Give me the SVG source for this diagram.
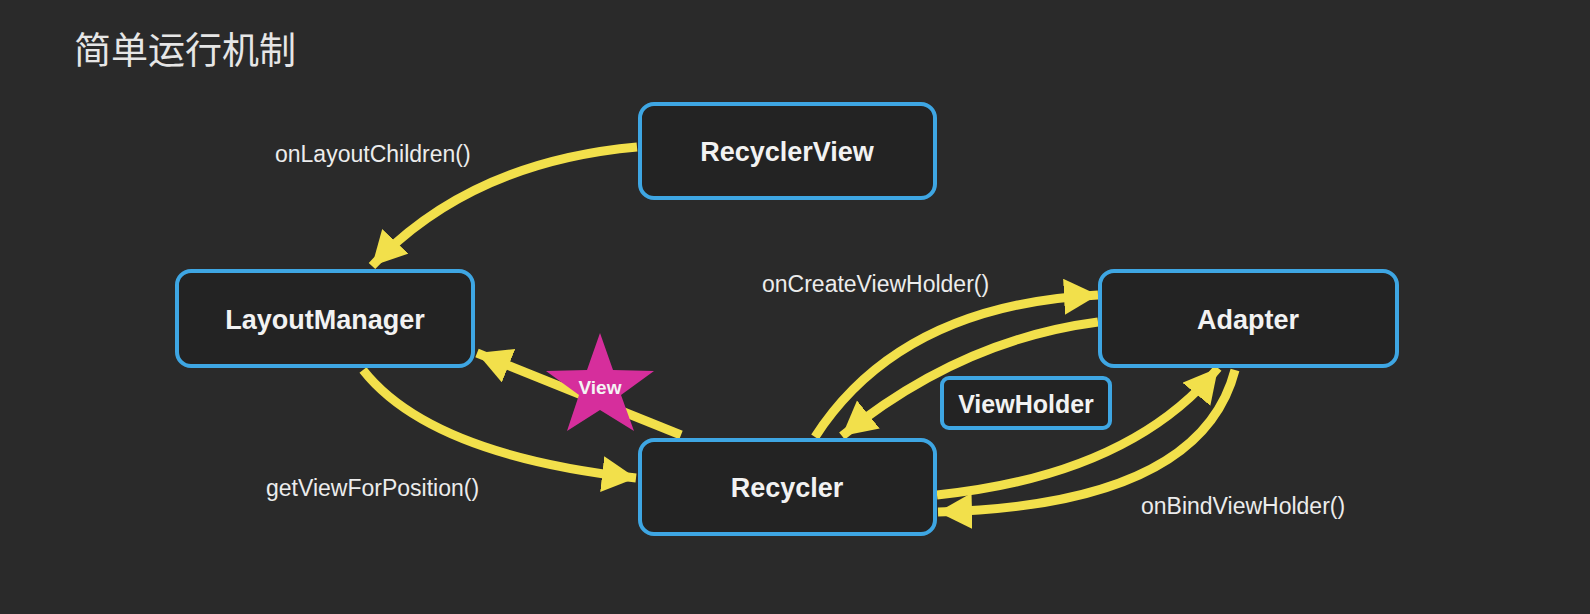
<svg xmlns="http://www.w3.org/2000/svg" width="1590" height="614" viewBox="0 0 1590 614">
<style>
.node{fill:#232323;stroke:#3ea6e3;stroke-width:4}
.nt{font-family:"Liberation Sans",Arial,sans-serif;font-weight:bold;font-size:27px;fill:#f2f2f2;text-anchor:middle}
.lb{font-family:"Liberation Sans",Arial,sans-serif;font-size:23px;fill:#ececec}
.ar{fill:none;stroke:#f2e04b;stroke-width:9}
</style>
<defs>
<marker id="ah" markerUnits="userSpaceOnUse" markerWidth="40" markerHeight="40" refX="34" refY="18" orient="auto" viewBox="0 0 40 40">
<path d="M0,0 L34,18 L0,36 Z" fill="#f2e04b"/>
</marker>
</defs>
<rect width="1590" height="614" fill="#2a2a2a"/>
<text x="74" y="64" font-family="'Noto Sans CJK SC',sans-serif" font-size="37" fill="#e6e6e6">简单运行机制</text>
<g id="connectors">
<path class="ar" d="M637,147 Q470,162 372,266" marker-end="url(#ah)"/>
<path class="ar" d="M363,370 Q430,455 636,478" marker-end="url(#ah)"/>
<path class="ar" d="M681,435 L477,353" marker-end="url(#ah)"/>
<path class="ar" d="M815,437 Q900,305 1098,295" marker-end="url(#ah)"/>
<path class="ar" d="M1098,322 Q960,340 842,436" marker-end="url(#ah)"/>
<path class="ar" d="M937,495 Q1130,475 1218,368" marker-end="url(#ah)"/>
<path class="ar" d="M1235,370 Q1200,505 938,512" marker-end="url(#ah)"/>
</g>
<g id="star">
<polygon points="600,333 613,370 654,371 621,395 634,431 600,410 567,431 579,395 546,371 587,370" fill="#d62e9c"/>
<text x="600" y="394" font-family="'Liberation Sans',Arial,sans-serif" font-weight="bold" font-size="19" fill="#f4f4f4" text-anchor="middle">View</text>
</g>
<g id="RecyclerView"><rect class="node" x="640" y="104" width="295" height="94" rx="14"/><text class="nt" x="787" y="161">RecyclerView</text></g>
<g id="LayoutManager"><rect class="node" x="177" y="271" width="296" height="95" rx="14"/><text class="nt" x="325" y="329">LayoutManager</text></g>
<g id="Adapter"><rect class="node" x="1100" y="271" width="297" height="95" rx="14"/><text class="nt" x="1248" y="329">Adapter</text></g>
<g id="Recycler"><rect class="node" x="640" y="440" width="295" height="94" rx="14"/><text class="nt" x="787" y="497">Recycler</text></g>
<g id="ViewHolder"><rect class="node" x="942" y="378" width="168" height="50" rx="7"/><text class="nt" x="1026" y="413" style="font-size:25px">ViewHolder</text></g>
<text class="lb" x="275" y="162">onLayoutChildren()</text>
<text class="lb" x="762" y="292">onCreateViewHolder()</text>
<text class="lb" x="266" y="496">getViewForPosition()</text>
<text class="lb" x="1141" y="514">onBindViewHolder()</text>
</svg>
